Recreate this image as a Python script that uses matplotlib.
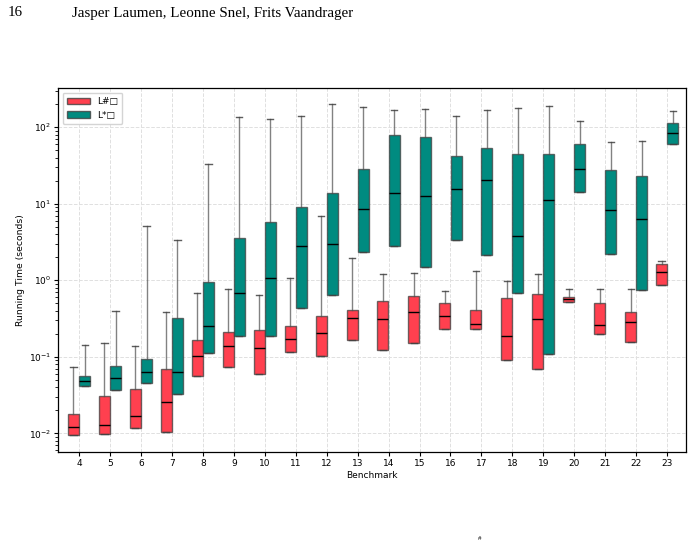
import matplotlib
matplotlib.use("Agg")
import matplotlib.pyplot as plt
from matplotlib.patches import Patch

benchmarks = [str(b) for b in range(4, 24)]

# L# (red) box statistics
lsharp_whislo = [0.0094, 0.0098, 0.0118, 0.0105, 0.0565, 0.0727, 0.059, 0.115, 0.101, 0.167,
                 0.122, 0.152, 0.23, 0.234, 0.0914, 0.069, 0.527, 0.198, 0.157, 0.879]
lsharp_q1 = [0.0096, 0.0098, 0.0118, 0.0105, 0.0565, 0.0727, 0.059, 0.115, 0.101, 0.167,
             0.122, 0.152, 0.23, 0.234, 0.0914, 0.069, 0.527, 0.198, 0.157, 0.879]
lsharp_med = [0.0120, 0.0127, 0.0169, 0.0254, 0.103, 0.138, 0.129, 0.169, 0.202, 0.326,
              0.31, 0.379, 0.343, 0.272, 0.186, 0.316, 0.571, 0.259, 0.281, 1.3]
lsharp_q3 = [0.0179, 0.0304, 0.0376, 0.0698, 0.168, 0.212, 0.223, 0.256, 0.336, 0.41,
             0.532, 0.625, 0.497, 0.41, 0.582, 0.663, 0.613, 0.506, 0.386, 1.62]
lsharp_whishi = [0.074, 0.152, 0.139, 0.379, 0.69, 0.778, 0.65, 1.07, 6.9, 1.95,
                 1.2, 1.24, 0.719, 1.31, 0.99, 1.2, 0.763, 0.77, 0.778, 1.77]

# L* (teal) box statistics
lstar_whislo = [0.0411, 0.0371, 0.045, 0.033, 0.112, 0.188, 0.186, 0.435, 0.65, 2.34,
                2.83, 1.49, 3.35, 2.14, 0.69, 0.108, 14.2, 2.18, 0.748, 59.8]
lstar_q1 = [0.0411, 0.0371, 0.045, 0.033, 0.112, 0.188, 0.186, 0.435, 0.65, 2.34,
            2.83, 1.49, 3.35, 2.14, 0.69, 0.108, 14.2, 2.18, 0.748, 59.8]
lstar_med = [0.0478, 0.0527, 0.0626, 0.0626, 0.249, 0.69, 1.08, 2.8, 2.97, 8.43,
             13.7, 12.7, 15.7, 20.7, 3.82, 11.3, 28.3, 8.18, 6.37, 85]
lstar_q3 = [0.056, 0.0763, 0.0925, 0.323, 0.95, 3.53, 5.7, 8.95, 13.6, 28.3,
            80, 74.7, 42.2, 53.7, 44.8, 44, 59.8, 27.8, 22.9, 114]
lstar_whishi = [0.141, 0.398, 5.1, 3.32, 32.8, 134.6, 127, 139, 199, 184,
                170, 171, 139, 166, 177, 190, 119, 63.6, 66.9, 164]

series_labels = ["L#\u25a1", "L*\u25a1"]
colors = ["#ff404f", "#008b80"]

fig = plt.figure(figsize=(6.94, 5.44), dpi=100)
ax = fig.add_axes([58 / 694, (544 - 452) / 544, (686 - 58) / 694, (452 - 88) / 544])

def make_stats(lo, q1, med, q3, hi):
    return [dict(whislo=a, q1=b, med=c, q3=d, whishi=e, fliers=[])
            for a, b, c, d, e in zip(lo, q1, med, q3, hi)]

n = len(benchmarks)
offset = 0.18
width = 0.355
all_stats = [
    make_stats(lsharp_whislo, lsharp_q1, lsharp_med, lsharp_q3, lsharp_whishi),
    make_stats(lstar_whislo, lstar_q1, lstar_med, lstar_q3, lstar_whishi),
]
for k, (stats, col) in enumerate(zip(all_stats, colors)):
    pos = [i + (offset if k == 1 else -offset) for i in range(n)]
    ax.bxp(stats, positions=pos, widths=width, patch_artist=True, showfliers=False,
           capwidths=0.2,
           boxprops=dict(facecolor=col, edgecolor=(0.25, 0.25, 0.25, 0.75), linewidth=1.0),
           whiskerprops=dict(color=(0.3, 0.3, 0.3, 0.7), linewidth=1.0),
           capprops=dict(color=(0.25, 0.25, 0.25, 0.85), linewidth=1.0),
           medianprops=dict(color="black", linewidth=1.0),
           manage_ticks=False, zorder=3)

ax.set_yscale("log")
ax.set_ylim(0.0057, 325)
ax.set_xlim(-0.68, n - 1 + 0.61)
ax.set_xticks(range(n))
ax.set_xticklabels(benchmarks)
ax.grid(True, which="major", linestyle="--", color="#e0e0e0", linewidth=0.7, zorder=0)
ax.set_axisbelow(True)
ax.tick_params(axis="both", which="major", labelsize=6.5, length=3, width=0.8, pad=2)
ax.tick_params(axis="y", which="minor", length=2, width=0.6)
ax.set_xlabel("Benchmark", fontsize=6.5, labelpad=2)
ax.set_ylabel("Running Time (seconds)", fontsize=6.7, labelpad=3)
for s in ax.spines.values():
    s.set_linewidth(0.9)

handles = [Patch(facecolor=c, edgecolor=(0.25, 0.25, 0.25, 0.8), label=l)
           for c, l in zip(colors, series_labels)]
ax.legend(handles=handles, loc="upper left", fontsize=6.5, framealpha=0.9,
          edgecolor="#d0d0d0", fancybox=True, handlelength=2.5, borderpad=0.5)

fig.text(8 / 694, 1 - 13 / 544, "16", family="Liberation Serif", fontsize=10.8, va="center", ha="left")
fig.text(72 / 694, 1 - 13 / 544, "Jasper Laumen, Leonne Snel, Frits Vaandrager",
         family="Liberation Serif", fontsize=10.8, va="center", ha="left")
fig.text(478 / 694, 1 - 539 / 544, "#", family="Liberation Serif", fontsize=5, va="center", ha="left")

fig.savefig("out.png", dpi=100)
